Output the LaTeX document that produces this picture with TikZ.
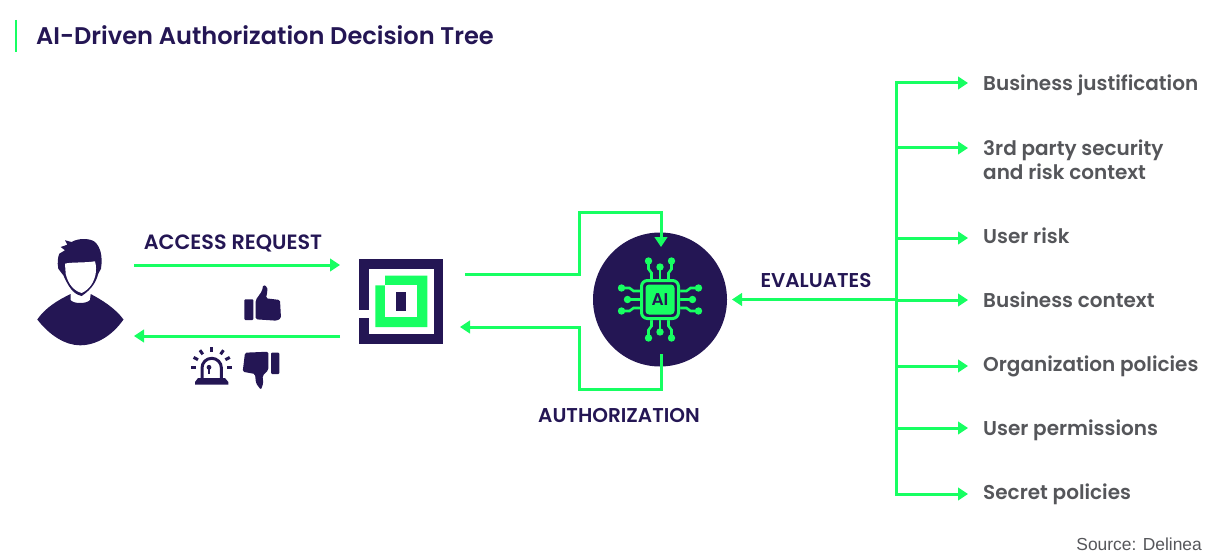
\documentclass[tikz,border=0pt]{standalone}
\usepackage{fontspec}
\setmainfont{Poppins}[BoldFont={Poppins SemiBold}]
\newfontfamily\srcfont{Liberation Sans}
\usetikzlibrary{arrows.meta,positioning}
\definecolor{inkblue}{HTML}{241654}
\definecolor{signal}{HTML}{17FF62}
\definecolor{itemgray}{HTML}{55565A}
\tikzset{
  flowline/.style={draw=signal,line width=3pt,-{Triangle[length=10pt,width=12.5pt]}},
  plainline/.style={draw=signal,line width=3pt},
  steplabel/.style={text=inkblue,font=\bfseries\fontsize{20}{24}\selectfont,inner sep=0pt},
  itemlabel/.style={text=itemgray,font=\fontsize{20}{24}\selectfont\bfseries,inner sep=0pt,align=left},
  ink/.style={fill=inkblue,draw=none},
  raybar/.style={draw=inkblue,line width=3pt},
  holder/.style={inner sep=0pt,outer sep=0pt,minimum height=10pt},
}
\begin{document}
\begin{tikzpicture}[x=1pt,y=-1pt]
  \useasboundingbox (0,0) rectangle (1218,559);
  \draw[signal,line width=2.5pt] (16,20) -- (16,52);
  \node[anchor=base west,text=inkblue,font=\bfseries\fontsize{24.1}{28}\selectfont,inner sep=0pt] (title) at (36,44.5) {AI-Driven Authorization Decision Tree};
  \node[anchor=base east,text=itemgray,font=\srcfont\fontsize{17.4}{20}\selectfont,inner sep=0pt] (source) at (1202,550) {Source: Delinea};
  % holders the connectors run between
  \node[holder,minimum width=98pt] (user) at (85,300) {};
  \node[holder,minimum width=125pt] (logo) at (402.5,300) {};
  \node[circle,fill=inkblue,inner sep=0pt,minimum size=134pt] (aicore) at (660,299.5) {};
  \coordinate (reqline) at (0,265);
  \coordinate (respline) at (0,336);
  \coordinate (sendline) at (0,274);
  \coordinate (backline) at (0,327);
  \coordinate (upbend) at (579,212);
  \coordinate (downbend) at (579,389);
  \coordinate (aitop) at (661,247);
  \coordinate (aibot) at (661,354);
  \coordinate (aiedge) at (732,299.5);
  % user
  \path[ink] (70.7,294) .. controls (58,300) and (45,308) .. (37.3,319.5)
    .. controls (50,336) and (66,345.3) .. (80,345.3)
    .. controls (96,345.3) and (112,336) .. (123.5,319.5)
    .. controls (115,308) and (102,300) .. (90.7,294)
    -- (90,300) .. controls (87,304) and (73,304) .. (70.7,300) -- cycle;
  \path[ink] (58.3,268.7) .. controls (57,262) and (58,257) .. (59.3,253.7)
    -- (65,250.3) -- (60.7,247) -- (67.3,244.7) -- (65,240.3) -- (71.7,242)
    .. controls (78,238) and (90,238) .. (95,242)
    .. controls (100,247) and (103,255) .. (101,268.7)
    -- (98.3,273.7) .. controls (96,282) and (92,289) .. (81.7,296)
    .. controls (72,294) and (68,285) .. (63.3,275.3) -- cycle;
  \path[fill=white] (65,263.7) .. controls (70,262) and (85,263) .. (95,261.3)
    .. controls (96.5,267) and (96,270) .. (95.7,273.7)
    .. controls (94,282) and (90,289) .. (81.7,293)
    .. controls (74,291) and (68,284) .. (65.7,273.7) -- cycle;
  % thumbs
  \path[ink,rounded corners=1pt] (244.3,299.3) rectangle (253.3,320);
  \path[ink,rounded corners=1.5pt] (255.7,300) -- (262,291) -- (263.3,284.7) -- (267.3,287) -- (267.3,292) -- (266,298.3)
    -- (280,300) -- (281,318.3) -- (276.7,320.7) -- (255.7,319.3) -- cycle;
  \path[ink,rounded corners=1pt] (271,352.7) rectangle (279.3,374);
  \path[ink,rounded corners=1.5pt] (268.3,351.7) -- (245,352.7) -- (242.7,371.7) -- (255,374) -- (256,383.3)
    -- (261,390) -- (263.3,383) -- (262.5,376) -- (268.3,370) -- cycle;
  % alarm
  \path[ink] (195,384.5) -- (195,382) -- (198,378) -- (225,378) -- (228.3,382) -- (228.3,384.5) -- cycle;
  \draw[inkblue,line width=3pt] (202,378) -- (202,368) arc[start angle=180,end angle=360,radius=9.7] -- (221.4,378);
  \fill[inkblue] (209,367.3) circle (2.4pt);
  \draw[inkblue,line width=2pt] (209,367.3) -- (209,374);
  \foreach \a in {0,-28,-55,-90,-125,-152,-180} {
    \draw[raybar] ([shift={(211.7,367)}]\a:15.5) -- ([shift={(211.7,367)}]\a:20.5);
  }
  % logo
  \path[ink] (359,259) rectangle (443,344);
  \path[fill=white] (369,269) rectangle (433.5,334);
  \path[fill=white] (358,310) rectangle (370,318.3);
  \path[fill=signal] (385,275.7) -- (427.3,275.7) -- (427.3,327) -- (375.3,327) -- (375.3,285.3) -- (385,285.3) -- cycle;
  \path[fill=white] (385,285.3) rectangle (417.3,317.3);
  \path[ink] (396.3,291.7) rectangle (405.7,311);
  % chip
  \foreach \a in {0,90,180,270} {
    \begin{scope}[rotate around={\a:(660,299.5)}]
      \draw[signal,line width=2.6pt] (660,267) -- (660,280);
      \draw[signal,line width=2.6pt] (648.5,261) -- (648.5,269) -- (651.5,273) -- (651.5,280);
      \draw[signal,line width=2.6pt] (671.5,261) -- (671.5,269) -- (668.5,273) -- (668.5,280);
      \fill[signal] (660,267) circle (3.7pt) (648.5,261) circle (3.7pt) (671.5,261) circle (3.7pt);
    \end{scope}
  }
  \fill[inkblue,rounded corners=6pt] (640,279) rectangle (680,320);
  \draw[signal,line width=3pt,rounded corners=6pt] (641.5,280.5) rectangle (678.5,318.5);
  \fill[signal,rounded corners=3.5pt] (645.5,284.5) rectangle (674.5,314.5);
  \node[text=inkblue,font=\bfseries\fontsize{17}{18}\selectfont,inner sep=0pt] (chipname) at (660,299.5) {AI};
  % connectors
  \draw[flowline] (user.east |- reqline) -- (logo.west |- reqline);
  \draw[flowline] (logo.west |- respline) -- (user.east |- respline);
  \draw[flowline] (logo.east |- sendline) -| (upbend) -| (aitop);
  \draw[flowline,shorten >=-5pt] (aibot) |- (downbend) |- (logo.east |- backline);
  \node[steplabel,font=\bfseries\fontsize{20.7}{24}\selectfont] (asklabel) at (233,243) {ACCESS REQUEST};
  \node[steplabel] (authlabel) at (619,415.5) {AUTHORIZATION};
  \node[steplabel] (evallabel) at (816,280) {EVALUATES};
  % evaluated items
  \coordinate (trunktop) at (896,83);
  \coordinate (trunkbot) at (896,494);
  \draw[plainline,line cap=rect] (trunktop) -- (trunkbot);
  \foreach \y/\b/\name/\itemtext in {83/90.5/justif/Business justification,238/243/urisk/User risk,300/307/context/Business context,366/371/orgpol/Organization policies,428/435/perms/User permissions,494/499.3/secpol/Secret policies} {
    \coordinate (tip\name) at (968,\y);
    \draw[flowline] (trunktop |- tip\name) -- (tip\name);
    \node[itemlabel,anchor=base west] (\name) at (983,\b) {\itemtext};
  }
  \coordinate (tipvendor) at (968,148);
  \draw[flowline] (trunktop |- tipvendor) -- (tipvendor);
  \node[itemlabel,anchor=north west] (vendor) at (983,139.5) {3rd party security\\and risk context};
  \draw[flowline,{Triangle[length=10pt,width=12.5pt]}-] (aiedge) -- (trunktop |- aiedge);
\end{tikzpicture}
\end{document}
